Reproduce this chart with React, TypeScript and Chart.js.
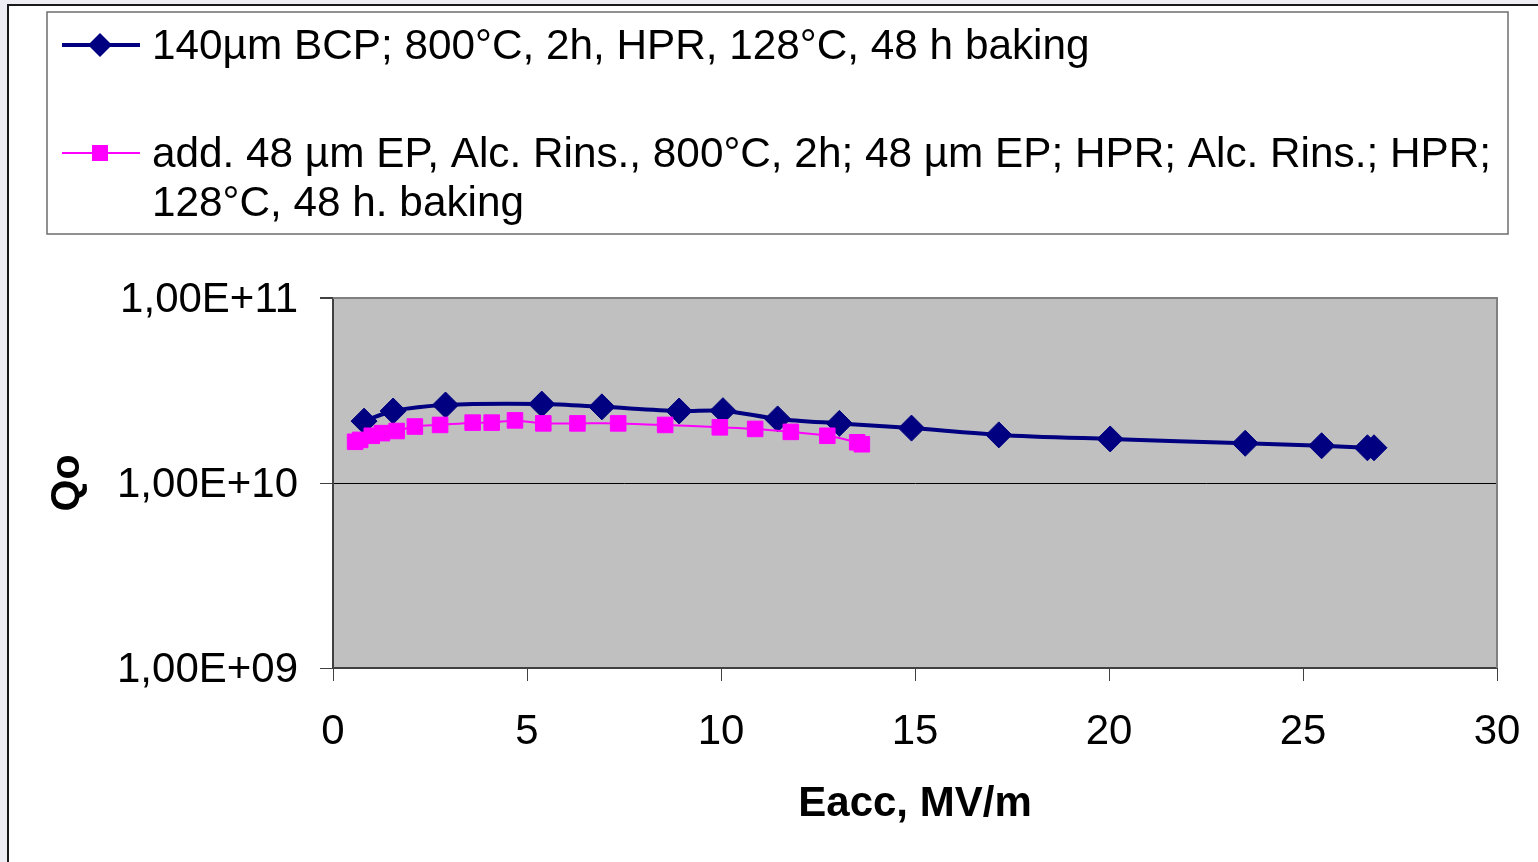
import React, { useEffect, useRef } from "react";
import { Chart, registerables } from "chart.js";

Chart.register(...registerables);

// ---------- data ----------
const seriesLabels = [
  "140µm BCP; 800°C, 2h, HPR, 128°C, 48 h baking",
  "add. 48 µm EP, Alc. Rins., 800°C, 2h; 48 µm EP; HPR; Alc. Rins.; HPR; 128°C, 48 h. baking",
];

const bcpEacc = [0.8, 1.55, 2.9, 5.38, 6.93, 8.92, 10.05, 11.46, 13.05, 14.91, 17.16, 20.03, 23.51, 25.48, 26.66, 26.83];
const bcpQ0 = [2.16e10, 2.45e10, 2.64e10, 2.67e10, 2.58e10, 2.45e10, 2.46e10, 2.22e10, 2.1e10, 1.98e10, 1.82e10, 1.73e10, 1.64e10, 1.59e10, 1.55e10, 1.55e10];

const epEacc = [0.57, 0.7, 1.0, 1.26, 1.64, 2.11, 2.76, 3.6, 4.09, 4.69, 5.42, 6.3, 7.35, 8.56, 9.97, 10.88, 11.8, 12.74, 13.51, 13.63];
const epQ0 = [1.67e10, 1.71e10, 1.8e10, 1.86e10, 1.91e10, 2.02e10, 2.06e10, 2.12e10, 2.12e10, 2.18e10, 2.1e10, 2.1e10, 2.1e10, 2.06e10, 2.0e10, 1.96e10, 1.89e10, 1.8e10, 1.66e10, 1.62e10];

const xTickValues = [0, 5, 10, 15, 20, 25, 30];
const xTickLabels = ["0", "5", "10", "15", "20", "25", "30"];
const yTickValues = [1e9, 1e10, 1e11];
const yTickLabels = ["1,00E+09", "1,00E+10", "1,00E+11"];

const xTitle = "Eacc, MV/m";
const yTitle = "Qo";

// ---------- style ----------
const FONT = "'Liberation Sans', Arial, sans-serif";
const BLUE = "#000080";
const PINK = "#ff00ff";

function wrapText(ctx: CanvasRenderingContext2D, text: string, maxWidth: number): string[] {
  const words = text.split(" ");
  const lines: string[] = [];
  let cur = "";
  for (const w of words) {
    const test = cur ? cur + " " + w : w;
    if (ctx.measureText(test).width > maxWidth && cur) {
      lines.push(cur);
      cur = w;
    } else {
      cur = test;
    }
  }
  if (cur) lines.push(cur);
  return lines;
}

const framePlugin = {
  id: "frame",
  beforeDraw(chart: any) {
    const { ctx, width, height, chartArea: a } = chart;
    ctx.save();
    ctx.fillStyle = "#eeeef4";
    ctx.fillRect(0, 0, width, height);
    ctx.fillStyle = "#ffffff";
    ctx.fillRect(8, 5, width, height);
    ctx.strokeStyle = "#1a1a1a";
    ctx.lineWidth = 2;
    ctx.beginPath();
    ctx.moveTo(8, height + 2);
    ctx.lineTo(8, 5);
    ctx.lineTo(width + 2, 5);
    ctx.stroke();
    ctx.fillStyle = "#c0c0c0";
    ctx.fillRect(a.left, a.top, a.right - a.left, a.bottom - a.top);
    ctx.restore();
  },
  beforeDatasetsDraw(chart: any) {
    const { ctx, chartArea: a } = chart;
    ctx.save();
    ctx.strokeStyle = "#808080";
    ctx.lineWidth = 2;
    ctx.beginPath();
    ctx.moveTo(a.left, a.top);
    ctx.lineTo(a.right, a.top);
    ctx.lineTo(a.right, a.bottom);
    ctx.stroke();
    ctx.restore();
  },
};

const legendPlugin = {
  id: "boxLegend",
  afterDraw(chart: any) {
    const { ctx } = chart;
    const box = { left: 47, top: 12, right: 1508, bottom: 234 };
    ctx.save();
    ctx.fillStyle = "#ffffff";
    ctx.fillRect(box.left, box.top, box.right - box.left, box.bottom - box.top);
    ctx.strokeStyle = "#6e6e6e";
    ctx.lineWidth = 1.5;
    ctx.strokeRect(box.left, box.top, box.right - box.left, box.bottom - box.top);

    ctx.font = `42.3px ${FONT}`;
    ctx.fillStyle = "#000";
    ctx.textBaseline = "alphabetic";
    ctx.textAlign = "left";
    const textX = 152;
    const lineH = 49;
    let baseline = 59;
    chart.data.datasets.forEach((ds: any) => {
      const lines = wrapText(ctx, ds.label, box.right - textX - 4);
      const cy = baseline - 14;
      ctx.strokeStyle = ds.borderColor;
      ctx.lineWidth = ds.borderWidth;
      ctx.beginPath();
      ctx.moveTo(62, cy);
      ctx.lineTo(140, cy);
      ctx.stroke();
      ctx.fillStyle = ds.backgroundColor;
      const cx = 100;
      if (ds.pointStyle === "rectRot") {
        const r = 12;
        ctx.beginPath();
        ctx.moveTo(cx - r, cy);
        ctx.lineTo(cx, cy - r);
        ctx.lineTo(cx + r, cy);
        ctx.lineTo(cx, cy + r);
        ctx.closePath();
        ctx.fill();
      } else {
        const s = 8;
        ctx.fillRect(cx - s, cy - s, 2 * s, 2 * s);
      }
      ctx.fillStyle = "#000";
      lines.forEach((ln, i) => {
        ctx.fillText(ln, textX, baseline + i * lineH);
      });
      baseline += (lines.length - 1) * lineH + 108;
    });
    ctx.restore();
  },
};

export default function App() {
  const canvasRef = useRef<HTMLCanvasElement | null>(null);

  useEffect(() => {
    const canvas = canvasRef.current;
    if (!canvas) return;
    const chart = new Chart(canvas, {
      type: "line",
      data: {
        datasets: [
          {
            label: seriesLabels[0],
            data: bcpEacc.map((x, i) => ({ x, y: bcpQ0[i] })),
            borderColor: BLUE,
            backgroundColor: BLUE,
            borderWidth: 4,
            pointStyle: "rectRot",
            pointRadius: 13,
            pointBorderWidth: 1,
            pointBackgroundColor: BLUE,
            pointBorderColor: BLUE,
            tension: 0.3,
            order: 1,
          },
          {
            label: seriesLabels[1],
            data: epEacc.map((x, i) => ({ x, y: epQ0[i] })),
            borderColor: PINK,
            backgroundColor: PINK,
            borderWidth: 2,
            pointStyle: "rect",
            pointRadius: 11,
            pointBorderWidth: 1,
            pointBackgroundColor: PINK,
            pointBorderColor: PINK,
            tension: 0.3,
            order: 0,
          },
        ],
      },
      options: {
        responsive: false,
        animation: false,
        layout: { padding: { left: 0, right: 41, top: 298, bottom: 0 } },
        plugins: { legend: { display: false }, tooltip: { enabled: false } },
        scales: {
          x: {
            type: "linear",
            min: 0,
            max: 30,
            afterFit(scale: any) {
              scale.height = 194;
              scale.paddingLeft = 0;
              scale.paddingRight = 0;
            },
            afterBuildTicks(scale: any) {
              scale.ticks = xTickValues.map((v) => ({ value: v }));
            },
            ticks: {
              font: { family: FONT, size: 42 },
              color: "#000",
              padding: 26,
              maxRotation: 0,
              autoSkip: false,
              callback: (_v: any, i: number) => xTickLabels[i],
            },
            grid: { drawOnChartArea: false, tickLength: 13, tickColor: "#404040" },
            border: { color: "#404040", width: 2 },
            title: {
              display: true,
              text: xTitle,
              color: "#000",
              font: { family: FONT, size: 42, weight: "bold" },
              padding: { top: 0, bottom: 32 },
            },
          },
          y: {
            type: "logarithmic",
            min: 1e9,
            max: 1e11,
            afterFit(scale: any) {
              scale.width = 333;
              scale.paddingTop = 0;
              scale.paddingBottom = 0;
            },
            afterBuildTicks(scale: any) {
              scale.ticks = yTickValues.map((v) => ({ value: v }));
            },
            ticks: {
              font: { family: FONT, size: 42 },
              color: "#000",
              padding: 22,
              labelOffset: 2,
              autoSkip: false,
              callback: (_v: any, i: number) => yTickLabels[i],
            },
            grid: {
              color: (c: any) => (c.tick && c.tick.value === 1e11 ? "#808080" : "#000000"),
              lineWidth: (c: any) => (c.tick && c.tick.value === 1e11 ? 2 : 1),
              tickLength: 13,
              tickColor: "#404040",
            },
            border: { color: "#404040", width: 2 },
            title: {
              display: true,
              text: yTitle,
              color: "#000",
              font: { family: FONT, size: 41, weight: "bold" },
              padding: { top: 43, bottom: 0 },
            },
          },
        },
      } as any,
      plugins: [framePlugin, legendPlugin],
    });
    return () => chart.destroy();
  }, []);

  return (
    <canvas
      ref={canvasRef}
      width={1538}
      height={862}
      style={{ position: "absolute", left: 0, top: 0, display: "block" }}
    />
  );
}
